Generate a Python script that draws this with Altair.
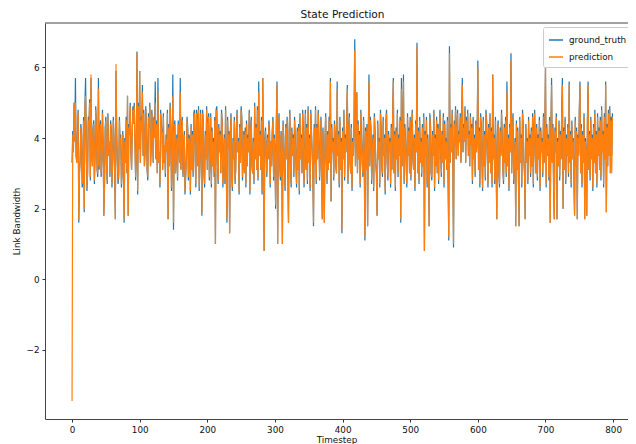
import altair as alt
import pandas as pd

ground_truth = [
    3.3,4.2,3.6,5.0,3.9,5.7,3.5,3.3,4.1,4.8,1.6,3.0,3.4,4.4,4.1,2.6,2.8,4.6,1.9,4.9,
    5.7,3.9,2.5,3.0,4.6,4.3,5.1,2.8,5.7,3.6,3.2,4.3,4.5,2.7,3.5,4.9,4.4,3.1,2.9,5.7,
    3.1,4.2,4.5,2.9,3.4,4.8,3.8,1.8,2.6,4.3,4.6,3.2,2.7,4.7,3.5,3.9,2.9,4.5,4.2,2.6,
    3.4,4.6,4.0,2.9,1.7,5.9,4.2,3.3,2.7,2.9,4.6,3.8,4.1,2.6,3.0,4.2,3.6,1.6,4.0,3.3,
    4.6,3.0,5.2,1.8,4.4,4.1,5.0,3.6,3.1,4.2,4.9,4.5,5.0,3.9,2.8,3.5,6.45,2.4,5.0,3.7,
    5.9,3.3,4.6,4.2,5.5,3.5,4.8,3.2,3.6,4.9,4.4,3.1,2.8,4.7,4.3,5.0,3.2,3.7,4.8,4.2,
    3.3,4.6,4.1,5.6,3.4,4.5,3.0,5.7,3.3,3.6,2.6,4.8,4.4,4.2,3.1,4.7,3.3,3.8,2.9,4.1,
    3.6,4.8,1.7,4.4,3.2,5.0,4.3,2.5,3.4,5.8,1.4,4.2,4.5,3.0,3.5,4.1,2.8,4.5,4.0,3.3,
    5.7,3.1,4.3,4.6,2.9,3.6,4.2,2.4,2.9,3.4,4.6,4.3,2.8,4.1,3.9,2.4,4.4,3.1,4.2,2.9,
    4.7,4.8,3.5,2.6,4.8,4.6,3.2,4.9,2.5,3.4,4.8,3.6,1.8,4.8,4.5,3.0,2.6,4.2,3.4,4.9,
    3.1,4.5,4.7,2.8,3.5,4.7,2.6,4.3,3.2,4.0,2.9,4.6,1.0,4.8,4.9,3.3,2.7,4.4,3.6,4.2,
    3.0,4.8,4.5,2.6,3.4,4.1,2.7,4.9,3.2,1.6,4.6,3.7,4.2,1.3,4.1,4.7,3.0,2.5,4.0,3.4,
    4.6,2.7,3.1,4.3,4.8,3.6,4.0,2.4,4.4,3.3,4.9,4.6,2.8,3.5,4.2,3.0,4.3,2.6,4.5,3.2,
    4.1,3.6,4.8,2.4,4.3,4.6,3.2,3.0,4.0,2.7,5.0,3.4,4.4,3.1,4.9,2.8,5.6,3.5,4.2,3.1,
    4.6,2.4,5.7,3.3,0.8,4.0,4.3,3.6,2.9,4.1,3.4,4.5,4.2,2.6,3.9,3.2,4.2,4.6,2.8,4.1,
    3.5,2.0,4.4,5.6,1.0,4.1,4.7,3.3,2.8,4.2,3.6,1.0,4.5,4.0,3.1,2.5,4.4,3.4,4.6,3.0,
    1.6,4.2,4.8,3.2,2.6,4.3,3.5,4.1,2.9,4.6,4.0,3.3,2.6,4.3,3.1,4.4,2.4,4.7,3.4,4.1,
    3.0,4.8,4.2,2.6,3.5,4.8,3.1,4.4,2.7,4.9,3.3,4.1,2.5,4.8,4.2,3.6,3.0,1.5,4.4,3.3,
    4.9,2.7,4.4,3.4,4.8,4.1,2.8,3.5,4.6,3.0,1.7,4.3,3.2,1.6,4.0,4.7,3.4,2.7,4.2,3.1,
    4.6,3.3,5.7,2.2,4.4,3.6,4.0,2.8,4.5,4.1,3.2,3.0,5.6,3.5,4.2,2.6,4.6,3.1,4.0,1.3,
    4.3,3.4,4.8,2.8,4.1,3.6,4.5,5.5,2.7,4.2,4.7,3.3,3.0,4.4,2.5,4.0,3.5,4.6,6.8,3.2,
    4.1,5.3,3.0,4.5,3.4,4.2,2.6,4.8,4.0,3.3,2.9,4.6,3.5,1.1,4.3,3.1,4.4,1.5,4.0,5.8,
    3.2,4.6,4.3,2.7,3.6,4.1,2.5,4.7,4.2,3.3,3.0,1.8,4.5,3.4,4.0,2.6,4.8,4.3,3.2,2.9,
    4.6,3.5,4.1,2.4,4.5,4.8,3.3,2.8,4.2,3.6,4.0,2.6,4.4,3.1,4.7,5.7,3.0,4.2,2.5,4.3,
    3.4,4.8,2.9,4.1,3.5,4.6,1.6,5.7,3.2,4.2,5.8,2.7,4.4,4.0,3.3,2.6,4.7,3.5,4.3,3.0,
    4.6,2.8,4.2,4.8,3.4,3.1,4.1,2.5,4.5,3.6,6.7,3.0,4.3,2.7,4.6,3.3,4.0,2.9,4.4,3.2,
    4.7,0.8,4.2,3.5,4.6,2.6,4.1,3.3,1.5,4.7,4.4,3.0,2.8,4.2,3.5,4.8,2.5,4.1,3.2,4.6,
    3.0,4.4,2.7,4.3,4.8,3.6,2.9,4.2,3.3,4.7,2.6,4.5,3.4,4.0,3.1,4.6,2.8,1.1,6.6,3.3,
    4.4,3.6,4.8,3.2,0.9,4.5,3.8,4.9,3.4,4.3,4.8,3.5,4.2,3.9,4.7,3.3,4.5,5.7,3.6,4.4,
    3.9,4.9,3.3,4.6,4.0,4.8,3.5,4.2,3.2,4.7,3.8,4.4,2.7,4.6,3.4,4.1,2.9,4.5,3.6,4.2,
    6.2,3.1,4.3,2.6,4.7,4.4,3.4,2.5,4.6,3.2,4.2,2.8,4.8,4.5,3.5,2.6,4.4,3.3,4.7,3.0,
    4.3,2.6,5.8,3.4,4.1,2.7,4.6,3.3,1.7,4.2,4.5,3.0,2.6,4.3,3.5,4.8,4.1,3.1,2.7,4.4,
    3.3,4.6,2.9,5.6,3.2,4.1,2.5,4.4,3.6,6.4,3.0,4.2,4.7,2.7,3.4,4.0,1.5,4.5,3.1,4.3,
    2.8,1.5,4.6,3.3,4.1,2.6,4.8,4.4,3.4,3.0,1.7,4.4,3.3,4.0,2.7,4.6,3.5,4.1,2.9,4.3,
    3.2,4.7,2.6,4.2,4.8,3.5,3.0,4.4,2.8,4.1,3.4,4.6,2.5,4.3,3.6,4.0,2.9,4.7,3.3,4.2,
    6.1,2.6,4.4,3.5,4.1,2.8,4.6,1.6,4.2,5.7,3.3,4.4,2.5,1.7,4.3,3.6,4.7,1.7,4.0,3.2,
    4.5,2.8,4.2,3.4,4.8,5.7,2.0,4.3,3.1,4.6,2.7,4.1,3.5,4.4,2.9,5.6,3.3,4.2,2.6,4.5,
    3.4,4.0,2.9,1.8,4.6,3.2,4.3,1.7,4.1,3.5,4.8,5.6,3.0,4.4,2.6,4.2,3.3,4.7,1.7,4.0,
    3.6,1.8,4.5,5.6,3.1,4.2,2.8,4.6,3.4,4.1,2.5,4.4,3.3,4.8,3.0,4.2,2.6,4.7,3.5,4.3,
    3.1,4.6,2.8,4.9,3.6,4.2,2.6,4.7,3.4,5.6,1.9,4.4,3.2,4.8,3.5,4.9,3.0,4.6,3.5,4.7,
]

prediction = [
    -3.45,4.1,3.6,5.0,3.9,5.0,3.5,3.3,4.0,4.7,1.7,3.0,3.4,4.3,4.1,2.7,2.8,4.5,2.0,4.8,
    5.2,3.9,2.6,3.0,4.5,4.3,5.0,2.9,5.8,3.6,3.2,4.2,4.4,2.8,3.5,4.8,4.3,3.1,3.0,5.4,
    3.2,4.1,4.4,3.0,3.4,4.7,3.8,1.8,2.7,4.2,4.5,3.2,2.8,4.6,3.5,3.9,3.0,4.4,4.1,2.7,
    3.4,4.5,4.0,3.0,1.7,6.1,4.1,3.3,2.8,3.0,4.5,3.8,4.0,2.7,3.0,4.1,3.6,1.7,3.9,3.3,
    4.5,3.0,5.2,1.8,4.3,4.1,4.9,3.6,3.1,4.1,4.8,4.4,4.9,3.8,2.9,3.5,6.4,2.5,4.9,3.7,
    5.9,3.3,4.5,4.2,5.3,3.5,4.7,3.2,3.6,4.8,4.3,3.1,2.9,4.6,4.3,4.9,3.2,3.7,4.7,4.1,
    3.3,4.5,4.0,5.0,3.4,4.4,3.0,5.3,3.3,3.6,2.7,4.7,4.3,4.1,3.1,4.6,3.3,3.8,3.0,4.0,
    3.6,4.7,1.7,4.3,3.2,4.9,4.2,2.6,3.4,5.2,1.6,4.1,4.4,3.0,3.5,4.0,2.9,4.4,4.0,3.3,
    5.3,3.1,4.2,4.5,3.0,3.6,4.1,2.5,3.0,3.4,4.5,4.2,2.9,4.0,3.9,2.5,4.3,3.1,4.1,3.0,
    4.6,4.7,3.5,2.7,4.7,4.5,3.2,4.8,2.6,3.4,4.7,3.6,1.9,4.7,4.4,3.0,2.7,4.1,3.4,4.8,
    3.1,4.4,4.6,2.9,3.5,4.6,2.7,4.2,3.2,3.9,3.0,4.5,1.0,4.7,4.8,3.3,2.8,4.3,3.6,4.1,
    3.0,4.7,4.4,2.7,3.4,4.0,2.8,4.8,3.2,1.7,4.5,3.7,4.1,1.3,4.0,4.6,3.0,2.6,3.9,3.4,
    4.5,2.8,3.1,4.2,4.7,3.6,3.9,2.5,4.3,3.3,4.8,4.5,2.9,3.5,4.1,3.0,4.2,2.7,4.4,3.2,
    4.0,3.6,4.7,2.5,4.2,4.5,3.2,3.0,3.9,2.8,4.9,3.4,4.3,3.1,4.8,2.9,5.3,3.5,4.1,3.1,
    4.5,2.5,5.7,3.3,0.8,3.9,4.2,3.6,3.0,4.0,3.4,4.4,4.1,2.7,3.9,3.2,4.1,4.5,2.9,4.0,
    3.5,2.1,4.3,5.5,1.0,4.0,4.6,3.3,2.9,4.1,3.6,1.0,4.4,3.9,3.1,2.6,4.3,3.4,4.5,3.0,
    1.6,4.1,4.7,3.2,2.7,4.2,3.5,4.0,3.0,4.5,3.9,3.3,2.7,4.2,3.1,4.3,2.5,4.6,3.4,4.0,
    3.0,4.7,4.1,2.7,3.5,4.7,3.1,4.3,2.8,4.8,3.3,4.0,2.6,4.7,4.1,3.6,3.0,1.6,4.3,3.3,
    4.8,2.8,4.3,3.4,4.7,4.0,2.9,3.5,4.5,3.0,1.7,4.2,3.2,1.6,3.9,4.6,3.4,2.8,4.1,3.1,
    4.5,3.3,5.6,2.2,4.3,3.6,3.9,2.9,4.4,4.0,3.2,3.0,5.4,3.5,4.1,2.7,4.5,3.1,3.9,1.4,
    4.2,3.4,4.7,2.9,4.0,3.6,4.4,5.4,2.8,4.1,4.6,3.3,3.0,4.3,2.6,3.9,3.5,4.5,6.5,3.2,
    4.0,5.3,3.0,4.4,3.4,4.1,2.7,4.7,3.9,3.3,3.0,4.5,3.5,1.2,4.2,3.1,4.3,1.5,3.9,5.6,
    3.2,4.5,4.2,2.8,3.6,4.0,2.6,4.6,4.1,3.3,3.0,1.8,4.4,3.4,3.9,2.7,4.7,4.2,3.2,3.0,
    4.5,3.5,4.0,2.5,4.4,4.7,3.3,2.9,4.1,3.6,3.9,2.7,4.3,3.1,4.6,5.6,3.0,4.1,2.6,4.2,
    3.4,4.7,3.0,4.0,3.5,4.5,1.7,5.4,3.2,4.1,5.6,2.8,4.3,3.9,3.3,2.7,4.6,3.5,4.2,3.0,
    4.5,2.9,4.1,4.7,3.4,3.1,4.0,2.6,4.4,3.6,6.6,3.0,4.2,2.8,4.5,3.3,3.9,3.0,4.3,3.2,
    4.6,0.8,4.1,3.5,4.5,2.7,4.0,3.3,1.5,4.6,4.3,3.0,2.9,4.1,3.5,4.7,2.6,4.0,3.2,4.5,
    3.0,4.3,2.8,4.2,4.7,3.6,3.0,4.1,3.3,4.6,2.7,4.4,3.4,3.9,3.1,4.5,2.9,1.2,6.4,3.3,
    4.3,3.6,4.7,3.2,1.0,4.4,3.8,4.8,3.4,4.2,4.7,3.5,4.1,3.9,4.6,3.3,4.4,5.5,3.6,4.3,
    3.9,4.8,3.3,4.5,4.0,4.7,3.5,4.1,3.2,4.6,3.8,4.3,2.8,4.5,3.4,4.0,3.0,4.4,3.6,4.1,
    6.0,3.1,4.2,2.7,4.6,4.3,3.4,2.6,4.5,3.2,4.1,2.9,4.7,4.4,3.5,2.7,4.3,3.3,4.6,3.0,
    4.2,2.7,5.8,3.4,4.0,2.8,4.5,3.3,1.7,4.1,4.4,3.0,2.7,4.2,3.5,4.7,4.0,3.1,2.8,4.3,
    3.3,4.5,3.0,5.3,3.2,4.0,2.6,4.3,3.6,6.2,3.0,4.1,4.6,2.8,3.4,3.9,1.5,4.4,3.1,4.2,
    2.9,1.5,4.5,3.3,4.0,2.7,4.7,4.3,3.4,3.0,1.7,4.3,3.3,3.9,2.8,4.5,3.5,4.0,3.0,4.2,
    3.2,4.6,2.7,4.1,4.7,3.5,3.0,4.3,2.9,4.0,3.4,4.5,2.6,4.2,3.6,3.9,3.0,4.6,3.3,4.1,
    6.0,2.7,4.3,3.5,4.0,2.9,4.5,1.6,4.1,5.5,3.3,4.3,2.6,1.7,4.2,3.6,4.6,1.7,3.9,3.2,
    4.4,2.9,4.1,3.4,4.7,5.5,2.0,4.2,3.1,4.5,2.8,4.0,3.5,4.3,3.0,5.5,3.3,4.1,2.7,4.4,
    3.4,3.9,3.0,1.8,4.5,3.2,4.2,1.7,4.0,3.5,4.7,5.5,3.0,4.3,2.7,4.1,3.3,4.6,1.7,3.9,
    3.6,1.8,4.4,5.5,3.1,4.1,2.9,4.5,3.4,4.0,2.6,4.3,3.3,4.7,3.0,4.1,2.7,4.6,3.5,4.2,
    3.1,4.5,2.9,4.8,3.6,4.1,2.7,4.6,3.4,5.5,1.9,4.3,3.2,4.7,3.5,4.8,3.0,4.5,3.0,4.6,
]

series_names = ["ground_truth", "prediction"]
series_colors = ["#1f77b4", "#ff7f0e"]
x_ticks = [0, 100, 200, 300, 400, 500, 600, 700, 800]
y_ticks = [-2, 0, 2, 4, 6]

assert len(ground_truth) == 800, len(ground_truth)
assert len(prediction) == 800, len(prediction)

rows = []
for name, vals in zip(series_names, [ground_truth, prediction]):
    for i, v in enumerate(vals):
        rows.append({"Timestep": i, "value": v, "series": name})
df = pd.DataFrame(rows)

font = "DejaVu Sans"
txt = "#111111"
spine = "#444444"

lines = alt.Chart(df).mark_line(strokeWidth=1.2, clip=True).encode(
    x=alt.X(
        "Timestep:Q",
        scale=alt.Scale(domain=[-40, 822], nice=False, zero=False),
        axis=alt.Axis(
            values=x_ticks, title="Timestep", grid=False,
            domain=True, domainColor=spine, domainWidth=1,
            tickSize=3, tickColor="#333333", labelPadding=3, titlePadding=2,
            labelFontSize=8.8, titleFontSize=8.8, labelFont=font, titleFont=font,
            labelColor=txt, titleColor=txt, titleFontWeight="normal", labelFlush=False,
        ),
    ),
    y=alt.Y(
        "value:Q",
        scale=alt.Scale(domain=[-3.96, 7.26], nice=False, zero=False),
        axis=alt.Axis(
            values=y_ticks, title="Link Bandwidth", grid=False,
            domain=True, domainColor=spine, domainWidth=1,
            labelExpr="replace(format(datum.value, 'd'), '-', '\u2212')",
            tickSize=3, tickColor="#333333", labelPadding=3, titlePadding=5,
            labelFontSize=8.8, titleFontSize=8.8, labelFont=font, titleFont=font,
            labelColor=txt, titleColor=txt, titleFontWeight="normal", labelFlush=False,
        ),
    ),
    color=alt.Color(
        "series:N",
        scale=alt.Scale(domain=series_names, range=series_colors),
        legend=alt.Legend(
            title=None, orient="none", legendX=498, legendY=4,
            symbolType="stroke", symbolStrokeWidth=1.5, symbolSize=200,
            labelFontSize=8.8, labelFont=font, labelColor=txt,
            strokeColor="#cccccc", fillColor="white", padding=5,
            cornerRadius=2, rowPadding=4, labelOffset=5,
        ),
    ),
)

# top spine of the frame (the right spine lies outside the visible area in the reference)
top_spine = alt.Chart(pd.DataFrame({"k": [0]})).mark_rule(
    color=spine, strokeWidth=1
).encode(x=alt.value(0), x2=alt.value(583), y=alt.value(0))

chart = alt.layer(lines, top_spine).properties(
    width=583,
    height=396,
    title=alt.TitleParams(
        "State Prediction", fontSize=10.6, font=font, fontWeight="normal",
        color=txt, offset=2, dx=6,
    ),
    autosize=alt.AutoSizeParams(type="none"),
    padding={"left": 37, "top": 15, "right": 0, "bottom": 25},
).configure_view(strokeWidth=0)

chart.save("out.html", embed_options={"renderer": "svg", "actions": False})
